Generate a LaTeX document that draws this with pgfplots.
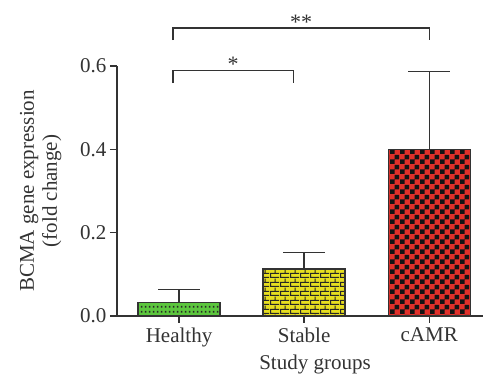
\documentclass[border=0pt]{standalone}
\usepackage{fontspec}
\setmainfont{Liberation Serif}
\usepackage{pgfplots}
\pgfplotsset{compat=1.18}
\usetikzlibrary{patterns}
\definecolor{ink}{HTML}{333333}
\definecolor{cgreen}{HTML}{5CC63E}
\definecolor{cyellow}{HTML}{E6DE20}
\definecolor{cred}{HTML}{E0302A}
\pgfdeclarepatternformonly{mychecker}{\pgfpointorigin}{\pgfqpoint{10pt}{10pt}}{\pgfqpoint{10pt}{10pt}}{%
 \pgfpathrectangle{\pgfpointorigin}{\pgfqpoint{5pt}{5pt}}%
 \pgfpathrectangle{\pgfqpoint{5pt}{5pt}}{\pgfqpoint{5pt}{5pt}}%
 \pgfusepath{fill}}
\pgfdeclarepatternformonly{mybricks}{\pgfpointorigin}{\pgfqpoint{10pt}{8.6pt}}{\pgfqpoint{10pt}{8.6pt}}{%
 \pgfsetlinewidth{1.1pt}%
 \pgfpathmoveto{\pgfqpoint{0pt}{0.55pt}}\pgfpathlineto{\pgfqpoint{10pt}{0.55pt}}%
 \pgfpathmoveto{\pgfqpoint{0pt}{4.85pt}}\pgfpathlineto{\pgfqpoint{10pt}{4.85pt}}%
 \pgfpathmoveto{\pgfqpoint{0.55pt}{0.55pt}}\pgfpathlineto{\pgfqpoint{0.55pt}{4.85pt}}%
 \pgfpathmoveto{\pgfqpoint{5.55pt}{4.85pt}}\pgfpathlineto{\pgfqpoint{5.55pt}{8.6pt}}%
 \pgfusepath{stroke}}
\pgfdeclarepatternformonly{mydots}{\pgfpointorigin}{\pgfqpoint{4pt}{5pt}}{\pgfqpoint{4pt}{5pt}}{%
 \pgfpathrectangle{\pgfqpoint{1pt}{1.5pt}}{\pgfqpoint{2pt}{2pt}}%
 \pgfusepath{fill}}
\begin{document}
\begin{tikzpicture}
\begin{axis}[
  scale only axis, width=366pt, height=250pt,
  xmin=-0.496, xmax=2.43, ymin=0, ymax=0.6,
  axis lines=left,
  axis line style={-, line width=1.3pt, draw=ink},
  clip=false,
  ybar, bar width=82pt, bar shift=0pt,
  xtick={0,1,2}, xticklabels={Healthy,Stable,cAMR},
  ytick={0,0.2,0.4,0.6},
  yticklabel style={/pgf/number format/.cd, fixed, fixed zerofill, precision=1, assume math mode=true},
  tick align=outside, major tick length=7pt,
  tick style={line width=1.3pt, draw=ink},
  ticklabel style={font=\fontsize{21}{24}\selectfont, text=ink},
  xticklabel style={yshift=-1pt},
  label style={font=\fontsize{21}{23}\selectfont, text=ink},
  xlabel={Study groups},
  xlabel style={xshift=15pt, yshift=-1pt},
  ylabel={BCMA gene expression\\(fold change)},
  ylabel style={align=center},
  ylabel shift=12pt,
  error bars/y dir=plus, error bars/y explicit,
  error bars/error bar style={line width=1.3pt, draw=ink},
  error bars/error mark options={rotate=90, mark size=21pt, line width=1.3pt, draw=ink},
]
\addplot[draw=ink, line width=1.4pt, fill=cgreen, postaction={pattern=mydots, pattern color=black!85}]
  coordinates {(0,0.032) +- (0,0.031)};
\addplot[draw=ink, line width=1.4pt, fill=cyellow, postaction={pattern=mybricks, pattern color=black!85}]
  coordinates {(1,0.113) +- (0,0.039)};
\addplot[draw=ink, line width=1.4pt, fill=cred, postaction={pattern=mychecker, pattern color=black!92}]
  coordinates {(2,0.400) +- (0,0.186)};
\draw[line width=1.2pt, ink] (axis cs:-0.048,0.559) -- (axis cs:-0.048,0.590) -- (axis cs:0.912,0.590) -- (axis cs:0.912,0.559);
\draw[line width=1.2pt, ink] (axis cs:-0.048,0.662) -- (axis cs:-0.048,0.691) -- (axis cs:2,0.691) -- (axis cs:2,0.662);
\node[font=\fontsize{22}{24}\selectfont, text=ink] at (axis cs:0.432,0.603) {*};
\node[font=\fontsize{22}{24}\selectfont, text=ink] at (axis cs:0.976,0.705) {**};
\end{axis}
\pgfresetboundingbox
\path[use as bounding box] (-117pt,-58pt) rectangle (367pt,316pt);
\end{tikzpicture}
\end{document}
